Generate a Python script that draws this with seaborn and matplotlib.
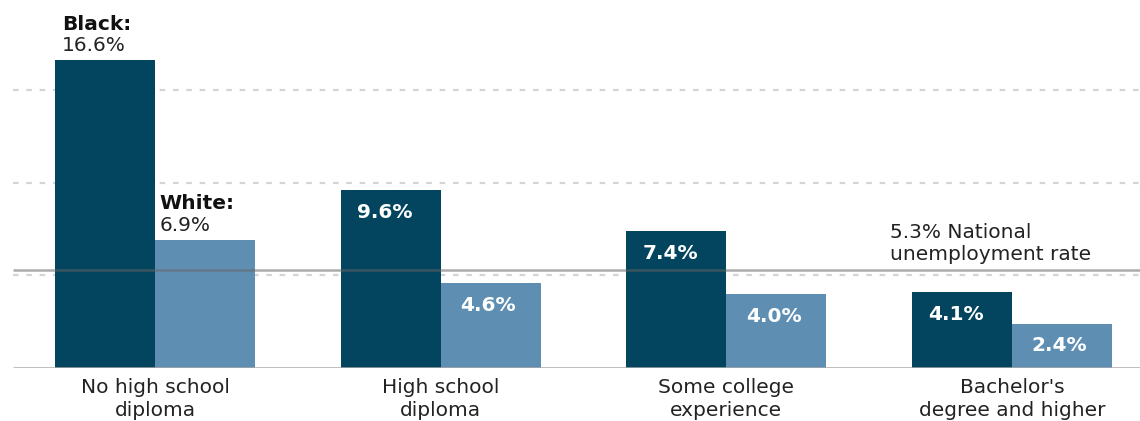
import matplotlib
matplotlib.use("Agg")
import matplotlib.pyplot as plt
import seaborn as sns
import pandas as pd

categories = ["No high school\ndiploma", "High school\ndiploma",
              "Some college\nexperience", "Bachelor's\ndegree and higher"]
black = [16.6, 9.6, 7.4, 4.1]
white = [6.9, 4.6, 4.0, 2.4]
national = 5.3
grid_vals = [5, 10, 15]

sns.set_theme(style="white")
plt.rcParams['font.family'] = ['DejaVu Sans']

df = pd.DataFrame({
    "cat": categories * 2,
    "race": ["Black"] * 4 + ["White"] * 4,
    "rate": black + white,
})

dark = "#03445f"
light = "#5e8fb3"

fig = plt.figure(figsize=(11.4, 4.21), dpi=100)
ax = fig.add_axes([0, 53 / 421, 1, 368 / 421])

XMIN, XMAX = -0.5426, 3.448
GRID_START = -0.497

for g in grid_vals:
    ax.hlines(g, GRID_START, XMAX, color="#d4d4d4", lw=1.6,
              ls=(0, (2.5, 3.5)), zorder=0)

sns.barplot(data=df, x="cat", y="rate", hue="race", order=categories,
            hue_order=["Black", "White"], palette=[dark, light],
            width=0.7, saturation=1, legend=False, ax=ax, zorder=2,
            linewidth=0)

ax.hlines(0, GRID_START, XMAX, color="#aaaaaa", lw=1.8, zorder=3)
ax.hlines(national, GRID_START, XMAX, color="#666666", lw=1.8, alpha=0.55, zorder=4)

ax.set_xlim(XMIN, XMAX)
ax.set_ylim(0, 368 / 18.53)
ax.set_xlabel("")
ax.set_ylabel("")
ax.set_yticks([])
fs = 14.5
ax.tick_params(axis="x", length=0, pad=7, labelsize=fs, labelcolor="#222222")
for lab in ax.get_xticklabels():
    lab.set_linespacing(1.3)
for s in ax.spines.values():
    s.set_visible(False)

bw = 0.35
# first group annotations above bars
ax.text(-bw + 0.025, black[0] + 1.45, "Black:", fontsize=fs, fontweight="bold",
        color="#111111", ha="left", va="bottom")
ax.text(-bw + 0.025, black[0] + 0.3, f"{black[0]}%", fontsize=fs,
        color="#222222", ha="left", va="bottom")
ax.text(0.015, white[0] + 1.45, "White:", fontsize=fs, fontweight="bold",
        color="#111111", ha="left", va="bottom")
ax.text(0.015, white[0] + 0.3, f"{white[0]}%", fontsize=fs,
        color="#222222", ha="left", va="bottom")

for i in range(1, 4):
    ax.text(i - bw / 2 - 0.02, black[i] - 0.7, f"{black[i]}%", fontsize=fs,
            fontweight="bold", color="white", ha="center", va="top", zorder=5)
    ax.text(i + bw / 2 - 0.01, white[i] - 0.7, f"{white[i]}%", fontsize=fs,
            fontweight="bold", color="white", ha="center", va="top", zorder=5)

ax.text(2.573, national + 0.3, f"{national}% National\nunemployment rate",
        fontsize=fs, color="#222222", ha="left", va="bottom", linespacing=1.2)

fig.savefig("out.png", dpi=100)
